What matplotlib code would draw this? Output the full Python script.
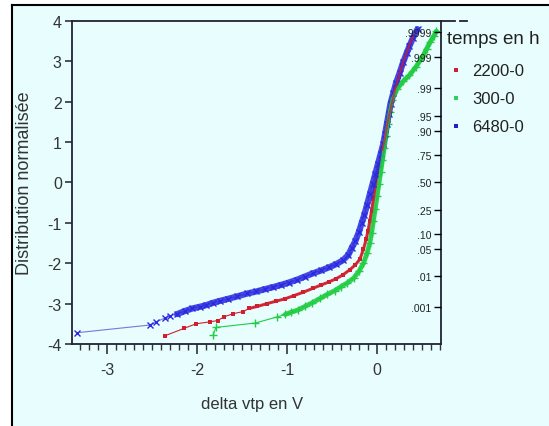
import matplotlib
matplotlib.use("Agg")
import matplotlib.pyplot as plt
from matplotlib.lines import Line2D
from matplotlib.patches import Rectangle
from matplotlib.ticker import MultipleLocator
from statistics import NormalDist

plt.rcParams['font.family'] = ['Liberation Sans', 'DejaVu Sans']
plt.rcParams['axes.unicode_minus'] = False

# normal quantile plot: x = delta vtp (V), y = normal quantile
x_2200 = [-2.36, -2.14, -2.01, -1.85, -1.77, -1.70, -1.60, -1.49, -1.42, -1.33, -1.22, -1.12,
          -1.02, -0.92, -0.82, -0.71, -0.62, -0.53, -0.45, -0.38, -0.30, -0.24, -0.19, -0.15,
          -0.12, -0.10, -0.08, -0.06, -0.04, -0.02, 0.00, 0.03, 0.06, 0.09, 0.11, 0.14,
          0.17, 0.20, 0.24, 0.28, 0.32, 0.36, 0.40]
y_2200 = [-3.80, -3.61, -3.50, -3.45, -3.42, -3.33, -3.25, -3.20, -3.12, -3.07, -3.00, -2.94,
          -2.88, -2.80, -2.72, -2.62, -2.54, -2.46, -2.38, -2.29, -2.16, -2.04, -1.90, -1.65,
          -1.40, -1.20, -0.95, -0.70, -0.40, -0.10, 0.20, 0.50, 0.80, 1.10, 1.40, 1.70,
          2.00, 2.30, 2.60, 2.90, 3.15, 3.40, 3.60]

x_300 = [-1.82, -1.79, -1.35, -1.11, -1.02, -0.95, -0.88, -0.80, -0.72, -0.63, -0.55, -0.47,
         -0.40, -0.33, -0.26, -0.20, -0.15, -0.11, -0.08, -0.06, -0.04, -0.02, 0.00, 0.02,
         0.04, 0.06, 0.08, 0.10, 0.12, 0.14, 0.17, 0.22, 0.29, 0.36, 0.43, 0.51, 0.55,
         0.59, 0.63, 0.66]
y_300 = [-3.78, -3.59, -3.48, -3.33, -3.27, -3.21, -3.16, -3.07, -2.98, -2.87, -2.77, -2.68,
         -2.58, -2.49, -2.37, -2.20, -2.00, -1.75, -1.50, -1.25, -0.95, -0.65, -0.35, -0.05,
         0.25, 0.55, 0.85, 1.15, 1.45, 1.75, 2.05, 2.30, 2.50, 2.65, 2.85, 3.12, 3.30,
         3.47, 3.62, 3.74]

x_6480 = [-3.33, -2.52, -2.45, -2.36, -2.30, -2.22, -2.13, -2.05, -1.97, -1.90, -1.82, -1.74,
          -1.65, -1.55, -1.44, -1.34, -1.24, -1.15, -1.07, -0.98, -0.89, -0.80, -0.71, -0.62,
          -0.53, -0.45, -0.38, -0.32, -0.28, -0.24, -0.20, -0.17, -0.14, -0.11, -0.08, -0.05,
          -0.02, 0.01, 0.04, 0.07, 0.09, 0.11, 0.13, 0.15, 0.18, 0.21, 0.25, 0.29, 0.33,
          0.36, 0.40, 0.45]
y_6480 = [-3.72, -3.53, -3.45, -3.36, -3.30, -3.26, -3.18, -3.12, -3.08, -3.04, -2.98, -2.93,
          -2.88, -2.82, -2.75, -2.70, -2.64, -2.59, -2.54, -2.48, -2.41, -2.33, -2.25, -2.18,
          -2.10, -2.02, -1.93, -1.80, -1.62, -1.45, -1.22, -1.00, -0.80, -0.55, -0.30, -0.05,
          0.20, 0.45, 0.70, 0.95, 1.20, 1.45, 1.70, 1.95, 2.20, 2.45, 2.70, 2.97, 3.20,
          3.37, 3.58, 3.79]

prob_labels = [".001", ".01", ".05", ".10", ".25", ".50", ".75", ".90", ".95", ".99", ".999", ".9999"]
probs = [0.001, 0.01, 0.05, 0.10, 0.25, 0.50, 0.75, 0.90, 0.95, 0.99, 0.999, 0.9999]
series_names = ["2200-0", "300-0", "6480-0"]

W, H = 549, 427
bg = "#E8FDFD"
fig = plt.figure(figsize=(W / 100, H / 100), dpi=100, facecolor="white")

def fx(px):
    return px / W

def fy(py):
    return 1 - py / H

# panel background and frame
fig.patches.append(Rectangle((fx(12), 0), 1 - fx(12), fy(6), transform=fig.transFigure,
                             facecolor=bg, edgecolor="none", zorder=-5))
fig.add_artist(Line2D([fx(12), fx(12)], [0, fy(6)], color="black", lw=1.5))
fig.add_artist(Line2D([fx(12), 1], [fy(6), fy(6)], color="black", lw=1.5))

ax = fig.add_axes([fx(71.5), fy(345), fx(441) - fx(71.5), fy(21.7) - fy(345)])
ax.set_facecolor(bg)

red, green, blue = "#D02030", "#22CC44", "#2A2AE0"

# thin connecting lines + markers
ax.plot(x_2200, y_2200, color=red, lw=0.8, marker="s", ms=2.4, mew=0, zorder=3)
ax.plot(x_300, y_300, color=green, lw=0.8, marker="+", ms=6, mew=1.0, zorder=3)
ax.plot(x_6480, y_6480, color="#7878D8", lw=0.8, zorder=3)
ax.plot(x_6480, y_6480, ls="none", color=blue, marker="x", ms=5, mew=1.0, zorder=4)

# dense part of each sample shows as a solid band
ax.plot(x_300[4:], y_300[4:], color=green, lw=3.5, alpha=0.9, solid_capstyle="round", zorder=3)
ax.plot(x_2200[8:], y_2200[8:], color=red, lw=2.2, alpha=0.9, solid_capstyle="round", zorder=3)
ax.plot(x_6480[5:], y_6480[5:], color=blue, lw=4.5, alpha=0.85, solid_capstyle="round", zorder=4)
# upper part: the samples overlap and mix
ax.plot(x_300[24:], y_300[24:], color=green, lw=2.5, alpha=0.85, solid_capstyle="round", zorder=5)
ax.plot(x_2200[32:], y_2200[32:], color=red, lw=1.5, alpha=0.7, solid_capstyle="round", zorder=5)

ax.set_xlim(-3.394, 0.711)
ax.set_ylim(-4, 4)
ax.xaxis.set_major_locator(MultipleLocator(1))
ax.xaxis.set_minor_locator(MultipleLocator(0.1))
ax.yaxis.set_major_locator(MultipleLocator(1))
ax.tick_params(axis="x", which="major", length=7, width=1.2, labelsize=11.5, colors="#333333", pad=6)
ax.tick_params(axis="x", which="minor", length=4, width=1.0, colors="#333333")
ax.tick_params(axis="y", which="major", length=5, width=1.2, labelsize=11.5, colors="#333333", pad=2)
for s in ["left", "bottom", "top", "right"]:
    ax.spines[s].set_color("#222233")
    ax.spines[s].set_linewidth(1.3)

ax.set_xlabel("delta vtp en V", fontsize=12, color="#333333")
ax.xaxis.set_label_coords(0.488, -0.16)
ax.set_ylabel("Distribution normalisée", fontsize=13, color="#333333")
ax.yaxis.set_label_coords(-0.105, 0.5)

# probability axis on the right
nd = NormalDist()
ax2 = ax.twinx()
ax2.set_ylim(-4, 4)
ax2.set_yticks([nd.inv_cdf(p) for p in probs])
ax2.set_yticklabels(prob_labels, ha="right", fontsize=7.5, color="#222222")
ax2.tick_params(axis="y", direction="in", length=5, width=1.0, pad=-7)
for s in ["left", "bottom", "top", "right"]:
    ax2.spines[s].set_visible(False)

# top line extends past the plot
fig.add_artist(Line2D([fx(441), fx(455)], [fy(21.7), fy(21.7)], color="#222233", lw=1.3))
fig.add_artist(Line2D([fx(460), fx(467)], [fy(21.7), fy(21.7)], color="#222233", lw=1.3))

# legend
fig.text(fx(447), fy(40), "temps en h", fontsize=13.5, va="center", ha="left", color="#222222")
leg_colors = ["#C8203C", "#30D060", "#2020C0"]
for i, (name, c) in enumerate(zip(series_names, leg_colors)):
    py = 71 + i * 28
    fig.add_artist(Line2D([fx(456)], [fy(py)], marker="s", ms=3, color=c, mew=0, ls="none"))
    fig.text(fx(472), fy(py), name, fontsize=12, va="center", ha="left", color="#222222")

fig.savefig("out.png", dpi=100, facecolor="white")
